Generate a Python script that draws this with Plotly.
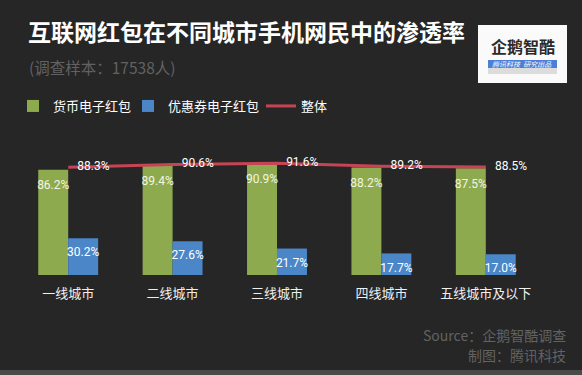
import plotly.graph_objects as go

# ---------------- data ----------------
categories = ["一线城市", "二线城市", "三线城市", "四线城市", "五线城市及以下"]
cash_red_packet = [86.2, 89.4, 90.9, 88.2, 87.5]
coupon_red_packet = [30.2, 27.6, 21.7, 17.7, 17.0]
overall = [88.3, 90.6, 91.6, 89.2, 88.5]
series_names = ["货币电子红包", "优惠券电子红包", "整体"]

title_text = "互联网红包在不同城市手机网民中的渗透率"
subtitle_text = "(调查样本：17538人)"
source_lines = ["Source：企鹅智酷调查", "制图：腾讯科技"]

# ---------------- layout constants ----------------
W, H = 582, 375
ML, MR, MT, MB = 16, 44, 153, 100
PW = W - ML - MR
PH = H - MT - MB
BG = "#262626"
GREEN = "#8EAA4E"
BLUE = "#4A86C8"
RED = "#C64454"
CJK = "Noto Sans CJK SC"
NUM = "Liberation Sans Narrow, Roboto, Noto Sans, sans-serif"
GAP = 0.426


def px_x(x):
    return (x - ML) / PW


def px_y(y):
    return (H - MB - y) / PH


fig = go.Figure()

fig.add_trace(go.Bar(
    x=categories, y=cash_red_packet, name=series_names[0], legendwidth=70,
    marker=dict(color=GREEN, line=dict(width=0)), hoverinfo="skip",
))
fig.add_trace(go.Bar(
    x=categories, y=coupon_red_packet, name=series_names[1], legendwidth=88,
    marker=dict(color=BLUE, line=dict(width=0)), hoverinfo="skip",
))

# value labels for bars (grouped scatter, text placed a little below bar tops)
for vals, col, msize in [(cash_red_packet, "#F4F4E2", 15), (coupon_red_packet, "#FFFFFF", 13)]:
    fig.add_trace(go.Scatter(
        x=categories, y=vals, mode="markers+text", orientation="v",
        marker=dict(size=msize, color="rgba(0,0,0,0)"),
        text=[f"{v:.1f}%" for v in vals], textposition="bottom center",
        textfont=dict(family=NUM, size=12, color=col),
        showlegend=False, hoverinfo="skip", cliponaxis=False,
    ))

# overall line on an overlaying category axis (not grouped)
fig.add_trace(go.Scatter(
    x=categories, y=overall, name=series_names[2], mode="lines+markers+text",
    xaxis="x2",
    line=dict(color=RED, width=3),
    marker=dict(size=13, color="rgba(0,0,0,0)"),
    text=[f"{v:.1f}%" for v in overall], textposition="middle right",
    textfont=dict(family=NUM, size=12, color="#FFFFFF"),
    hoverinfo="skip", cliponaxis=False,
))

fig.update_layout(
    width=W, height=H,
    margin=dict(l=ML, r=MR, t=MT, b=MB, pad=0),
    paper_bgcolor=BG, plot_bgcolor=BG,
    barmode="group", bargap=GAP, bargroupgap=0,
    scattermode="group", scattergap=GAP,
    showlegend=True,
    legend=dict(
        orientation="h", x=px_x(13), xanchor="left", y=px_y(106), yanchor="middle",
        font=dict(family=CJK, size=13, color="#FFFFFF"),
        bgcolor="rgba(0,0,0,0)", traceorder="normal",
    ),
    xaxis=dict(
        showgrid=False, showline=False, zeroline=False, ticks="",
        tickfont=dict(family=CJK, size=13, color="#F0F0F0"),
        ticklabelstandoff=9, range=[-0.5, 4.5],
    ),
    xaxis2=dict(
        overlaying="x", visible=False, range=[-0.5, 4.5],
        categoryorder="array", categoryarray=categories,
    ),
    yaxis=dict(visible=False, range=[0, 100], showgrid=False, zeroline=False),
    title=dict(
        text=f"<b>{title_text}</b>", x=28 / W, xanchor="left",
        y=1 - 33 / H, yanchor="middle",
        font=dict(family=CJK, size=23, color="#FFFFFF"),
    ),
)

# subtitle
fig.add_annotation(
    text=subtitle_text, xref="paper", yref="paper", x=px_x(27), y=px_y(67),
    xanchor="left", yanchor="middle", showarrow=False,
    font=dict(family=CJK, size=15.5, color="#626262"),
)
# source lines
for txt, yy in zip(source_lines, [335, 355]):
    fig.add_annotation(
        text=txt, xref="paper", yref="paper", x=px_x(568), y=px_y(yy),
        xanchor="right", yanchor="middle", showarrow=False,
        font=dict(family=CJK, size=14, color="#626262"),
    )

# logo
fig.add_shape(type="rect", xref="paper", yref="paper",
              x0=px_x(478), x1=px_x(567), y0=px_y(83), y1=px_y(25),
              fillcolor="#FAFAFA", line=dict(width=0), layer="above")
fig.add_shape(type="rect", xref="paper", yref="paper",
              x0=px_x(488), x1=px_x(557), y0=px_y(68), y1=px_y(60),
              fillcolor="#4C7FD6", line=dict(width=0), layer="above")
fig.add_shape(type="rect", xref="paper", yref="paper",
              x0=px_x(488), x1=px_x(557), y0=px_y(74), y1=px_y(68),
              fillcolor="#DCDCDC", line=dict(width=0), layer="above")
fig.add_annotation(
    text="<b>企鹅智酷</b>", xref="paper", yref="paper", x=px_x(523), y=px_y(46),
    xanchor="center", yanchor="middle", showarrow=False,
    font=dict(family=CJK, size=16, color="#2A2A2A"),
)
fig.add_annotation(
    text="<i>腾讯科技  研究出品</i>", xref="paper", yref="paper", x=px_x(522), y=px_y(64),
    xanchor="center", yanchor="middle", showarrow=False,
    font=dict(family=CJK, size=7, color="#FFFFFF"),
)

# bottom frame stripe
fig.add_shape(type="rect", xref="paper", yref="paper",
              x0=px_x(0), x1=px_x(W), y0=px_y(H), y1=px_y(370),
              fillcolor="#4A4A4A", line=dict(width=0), layer="above")

fig.write_html(
    "out.html",
    config={"displayModeBar": False},
    post_script="document.body.style.margin='0';document.body.style.padding='0';"
                "document.body.style.overflow='hidden';",
)
